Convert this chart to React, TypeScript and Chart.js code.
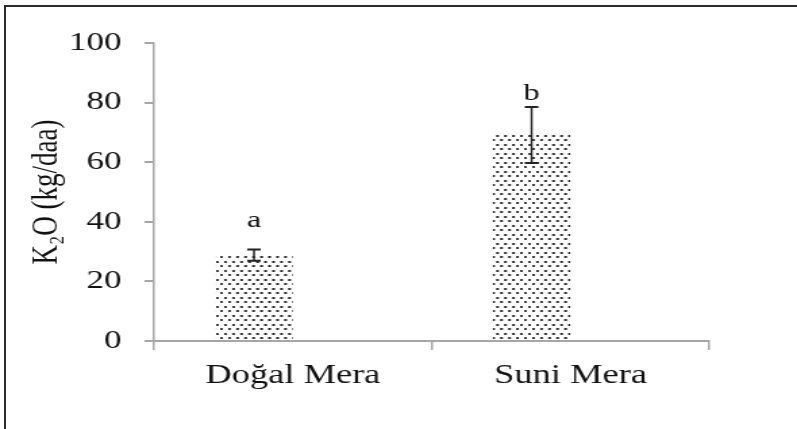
import React, { useEffect, useRef } from "react";
import { Chart, registerables } from "chart.js";

Chart.register(...registerables);

const categories = ["Doğal Mera", "Suni Mera"];
const means = [28.8, 69.1];
const errors = [1.9, 9.4];
const letters = ["a", "b"];
const letterValues = [38.3, 80.9];
const yMin = 0;
const yMax = 100;
const yStep = 20;
const yTitle = "K₂O (kg/daa)";

const OUT_W = 797;
const IN_W = 590;
const H = 429;
const SX = OUT_W / IN_W;
const SERIF = "'Liberation Serif', 'Times New Roman', serif";

function makePattern(ctx: CanvasRenderingContext2D): CanvasPattern | string {
  const c = document.createElement("canvas");
  c.width = 8;
  c.height = 9;
  const g = c.getContext("2d");
  if (!g) return "#999";
  g.fillStyle = "#ffffff";
  g.fillRect(0, 0, 8, 9);
  g.fillStyle = "#555";
  g.fillRect(0, 0, 3, 2);
  g.fillRect(4, 4, 3, 2);
  g.fillStyle = "#222";
  g.fillRect(1, 0, 1, 2);
  g.fillRect(5, 4, 1, 2);
  const p = ctx.createPattern(c, "repeat");
  if (!p) return "#999";
  try {
    p.setTransform(new DOMMatrix().scale(1 / SX, 1));
  } catch (e) {
    /* ignore */
  }
  return p;
}

const errorPlugin = {
  id: "errorBarsAndLetters",
  afterDatasetsDraw(chart: any) {
    const ctx = chart.ctx;
    const meta = chart.getDatasetMeta(0);
    const ys = chart.scales.y;
    ctx.save();
    meta.data.forEach((bar: any, i: number) => {
      const x = bar.x;
      const yTop = ys.getPixelForValue(means[i] + errors[i]);
      const yBot = ys.getPixelForValue(means[i] - errors[i]);
      const cap = 5;
      ctx.strokeStyle = "#222";
      ctx.lineWidth = 1.5;
      ctx.beginPath();
      ctx.moveTo(x, yTop);
      ctx.lineTo(x, yBot);
      ctx.stroke();
      ctx.lineWidth = 2;
      ctx.beginPath();
      ctx.moveTo(x - cap, yTop);
      ctx.lineTo(x + cap, yTop);
      ctx.moveTo(x - cap, yBot);
      ctx.lineTo(x + cap, yBot);
      ctx.stroke();
      ctx.fillStyle = "#111";
      ctx.font = `24px ${SERIF}`;
      ctx.textAlign = "center";
      ctx.textBaseline = "alphabetic";
      ctx.fillText(letters[i], x, ys.getPixelForValue(letterValues[i]));
    });
    ctx.restore();
  },
};

export default function App() {
  const ref = useRef<HTMLCanvasElement | null>(null);

  useEffect(() => {
    if (!ref.current) return;
    const c2d = ref.current.getContext("2d") as CanvasRenderingContext2D;
    const pattern = makePattern(c2d);
    const chart = new Chart(ref.current, {
      type: "bar",
      data: {
        labels: categories,
        datasets: [
          {
            data: means,
            backgroundColor: pattern as any,
            borderWidth: 0,
            categoryPercentage: 0.559,
            barPercentage: 1,
          },
          {
            data: categories.map(() => null),
            backgroundColor: "rgba(0,0,0,0)",
            borderWidth: 0,
            categoryPercentage: 0.559,
            barPercentage: 1,
          },
        ],
      },
      options: {
        responsive: false,
        animation: false,
        layout: { padding: { left: 0, top: 43, right: 65, bottom: 0 } },
        plugins: {
          legend: { display: false },
          tooltip: { enabled: false },
        },
        scales: {
          x: {
            grid: {
              display: true,
              drawOnChartArea: false,
              drawTicks: true,
              tickLength: 9,
              color: "#a6a6a6",
              lineWidth: 1.5,
              offset: true,
            },
            border: { display: true, color: "#a6a6a6", width: 2 },
            ticks: {
              color: "#111",
              font: { family: SERIF, size: 27 },
              padding: 10,
              maxRotation: 0,
            },
            afterFit(scale: any) {
              scale.height = H - 341;
            },
          },
          y: {
            min: yMin,
            max: yMax,
            grid: {
              display: true,
              drawOnChartArea: false,
              drawTicks: true,
              tickLength: 7,
              color: "#a6a6a6",
              lineWidth: 2,
            },
            border: { display: true, color: "#a6a6a6", width: 1.5 },
            ticks: {
              stepSize: yStep,
              color: "#111",
              font: { family: SERIF, size: 26 },
              padding: 17,
            },
            title: {
              display: true,
              text: yTitle,
              color: "#111",
              font: { family: SERIF, size: 27 },
              padding: { top: 19, bottom: 0 },
            },
            afterFit(scale: any) {
              scale.width = 114;
            },
          },
        },
      },
      plugins: [errorPlugin],
    });
    return () => chart.destroy();
  }, []);

  return (
    <div
      style={{
        position: "fixed",
        left: 0,
        top: 0,
        width: OUT_W,
        height: H,
        overflow: "hidden",
        background: "#fff",
      }}
    >
      <div
        style={{
          position: "absolute",
          left: 0,
          top: 0,
          width: IN_W,
          height: H,
          transform: `scaleX(${SX})`,
          transformOrigin: "0 0",
        }}
      >
        <canvas ref={ref} width={IN_W} height={H} style={{ display: "block" }} />
      </div>
      <div
        style={{
          position: "absolute",
          left: 4,
          top: 5,
          width: OUT_W,
          height: H,
          borderLeft: "2px solid #2a2a2a",
          borderTop: "2px solid #2a2a2a",
          pointerEvents: "none",
        }}
      />
    </div>
  );
}
